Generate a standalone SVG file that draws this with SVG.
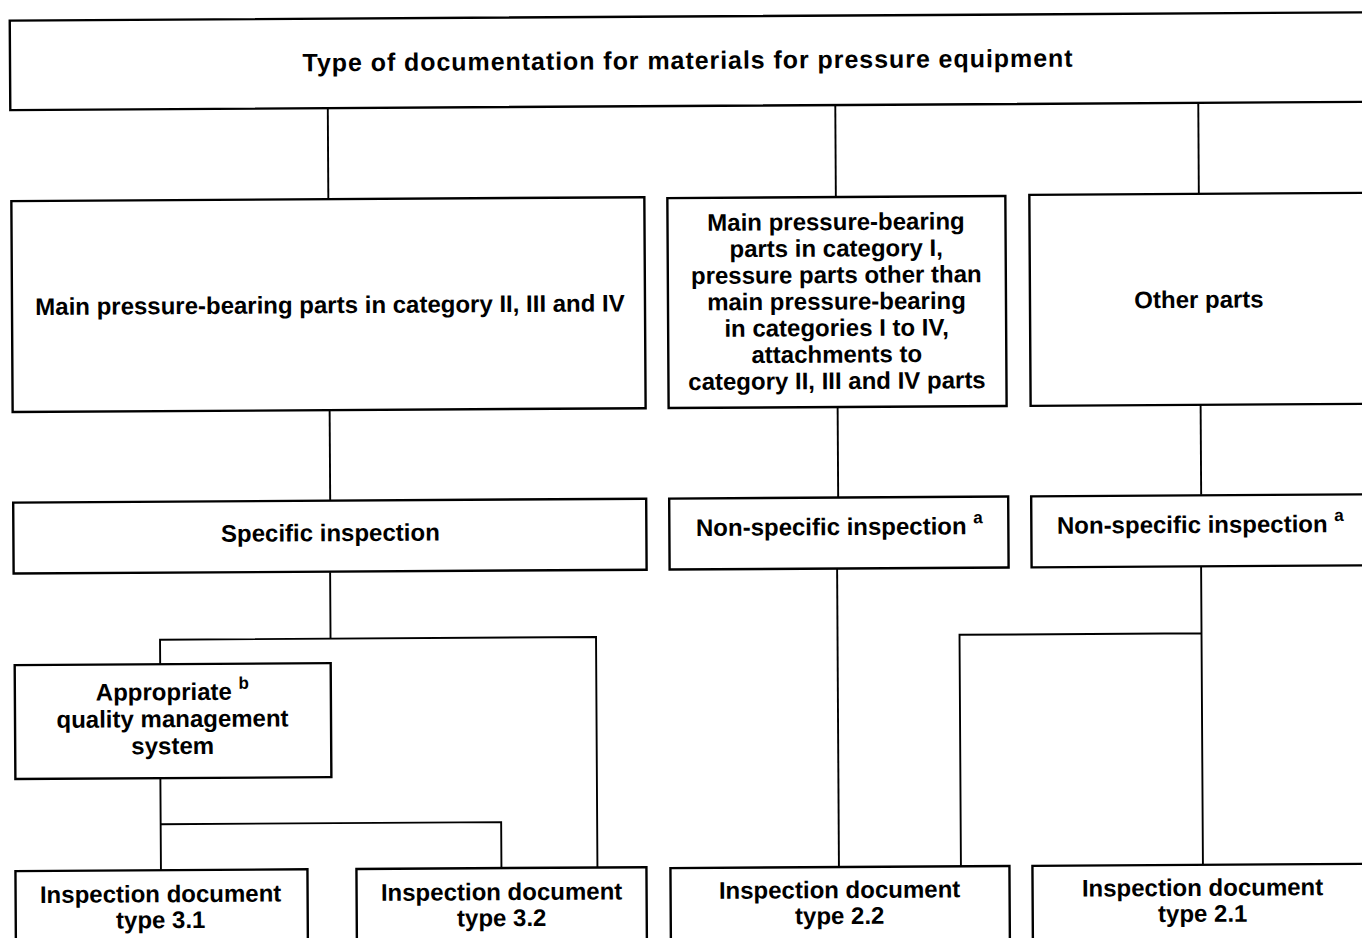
<svg xmlns="http://www.w3.org/2000/svg" width="1362" height="938" viewBox="0 0 1362 938">
<style>
.box{fill:#fff;stroke:#000;stroke-width:2.4}
.t{font-family:"Liberation Sans",Arial,sans-serif;font-weight:bold;font-size:24px;fill:#000;text-anchor:middle}
.sup{font-size:17px}
#connectors path{fill:none;stroke:#000;stroke-width:1.9}
</style>
<rect width="1362" height="938" fill="#fff"/>
<g transform="rotate(-0.35 681 469)">
<g id="connectors">
<path d="M330 106V197"/>
<path d="M837.5 106V198"/>
<path d="M1200.5 106V197"/>
<path d="M330 408V498"/>
<path d="M838 408V498"/>
<path d="M1201 408V498"/>
<path d="M329.5 570V636.5M159 661V636.5H595V867"/>
<path d="M158.5 775V867M158.5 821H499V867"/>
<path d="M836.5 569V868"/>
<path d="M1200.5 569V868M1200.5 636.5H958.5V868"/>
</g>
<g id="n-title">
<rect class="box" x="12.5" y="16.5" width="1420" height="89.5"/>
<text class="t" x="690" y="69" style="font-size:25px" textLength="770" lengthAdjust="spacing">Type of documentation for materials for pressure equipment</text>
</g>
<g id="n-main">
<rect class="box" x="13" y="197" width="633" height="211"/>
<text class="t" x="331" y="311">Main pressure-bearing parts in category II, III and IV</text>
</g>
<g id="n-cat1">
<rect class="box" x="669" y="198" width="338" height="210"/>
<text class="t" x="837.5" y="231">Main pressure-bearing</text>
<text class="t" x="837.5" y="257.5">parts in category I,</text>
<text class="t" x="837.5" y="284">pressure parts other than</text>
<text class="t" x="837.5" y="310.5">main pressure-bearing</text>
<text class="t" x="837.5" y="337">in categories I to IV,</text>
<text class="t" x="837.5" y="363.5">attachments to</text>
<text class="t" x="837.5" y="390">category II, III and IV parts</text>
</g>
<g id="n-other">
<rect class="box" x="1031" y="197" width="400" height="211"/>
<text class="t" x="1200" y="311">Other parts</text>
</g>
<g id="n-specific">
<rect class="box" x="13" y="498.5" width="633" height="71"/>
<text class="t" x="330" y="539">Specific inspection</text>
</g>
<g id="n-nonspec1">
<rect class="box" x="669" y="498.5" width="339" height="71"/>
<text class="t" x="839" y="536">Non-specific inspection <tspan class="sup" dy="-11">a</tspan></text>
</g>
<g id="n-nonspec2">
<rect class="box" x="1031" y="498.5" width="400" height="71"/>
<text class="t" x="1200" y="536">Non-specific inspection <tspan class="sup" dy="-11">a</tspan></text>
</g>
<g id="n-qms">
<rect class="box" x="13.5" y="661" width="316" height="114"/>
<text class="t" x="171" y="697">Appropriate <tspan class="sup" dy="-11">b</tspan></text>
<text class="t" x="171" y="724">quality management</text>
<text class="t" x="171" y="751">system</text>
</g>
<g id="n-31">
<rect class="box" x="13" y="867" width="292" height="100"/>
<text class="t" x="158" y="899">Inspection document</text>
<text class="t" x="158" y="925">type 3.1</text>
</g>
<g id="n-32">
<rect class="box" x="354" y="867" width="290" height="100"/>
<text class="t" x="499" y="899">Inspection document</text>
<text class="t" x="499" y="925">type 3.2</text>
</g>
<g id="n-22">
<rect class="box" x="668" y="868" width="339" height="100"/>
<text class="t" x="837" y="899">Inspection document</text>
<text class="t" x="837" y="925">type 2.2</text>
</g>
<g id="n-21">
<rect class="box" x="1030" y="868" width="400" height="100"/>
<text class="t" x="1200" y="899">Inspection document</text>
<text class="t" x="1200" y="925">type 2.1</text>
</g>
</g>
</svg>
